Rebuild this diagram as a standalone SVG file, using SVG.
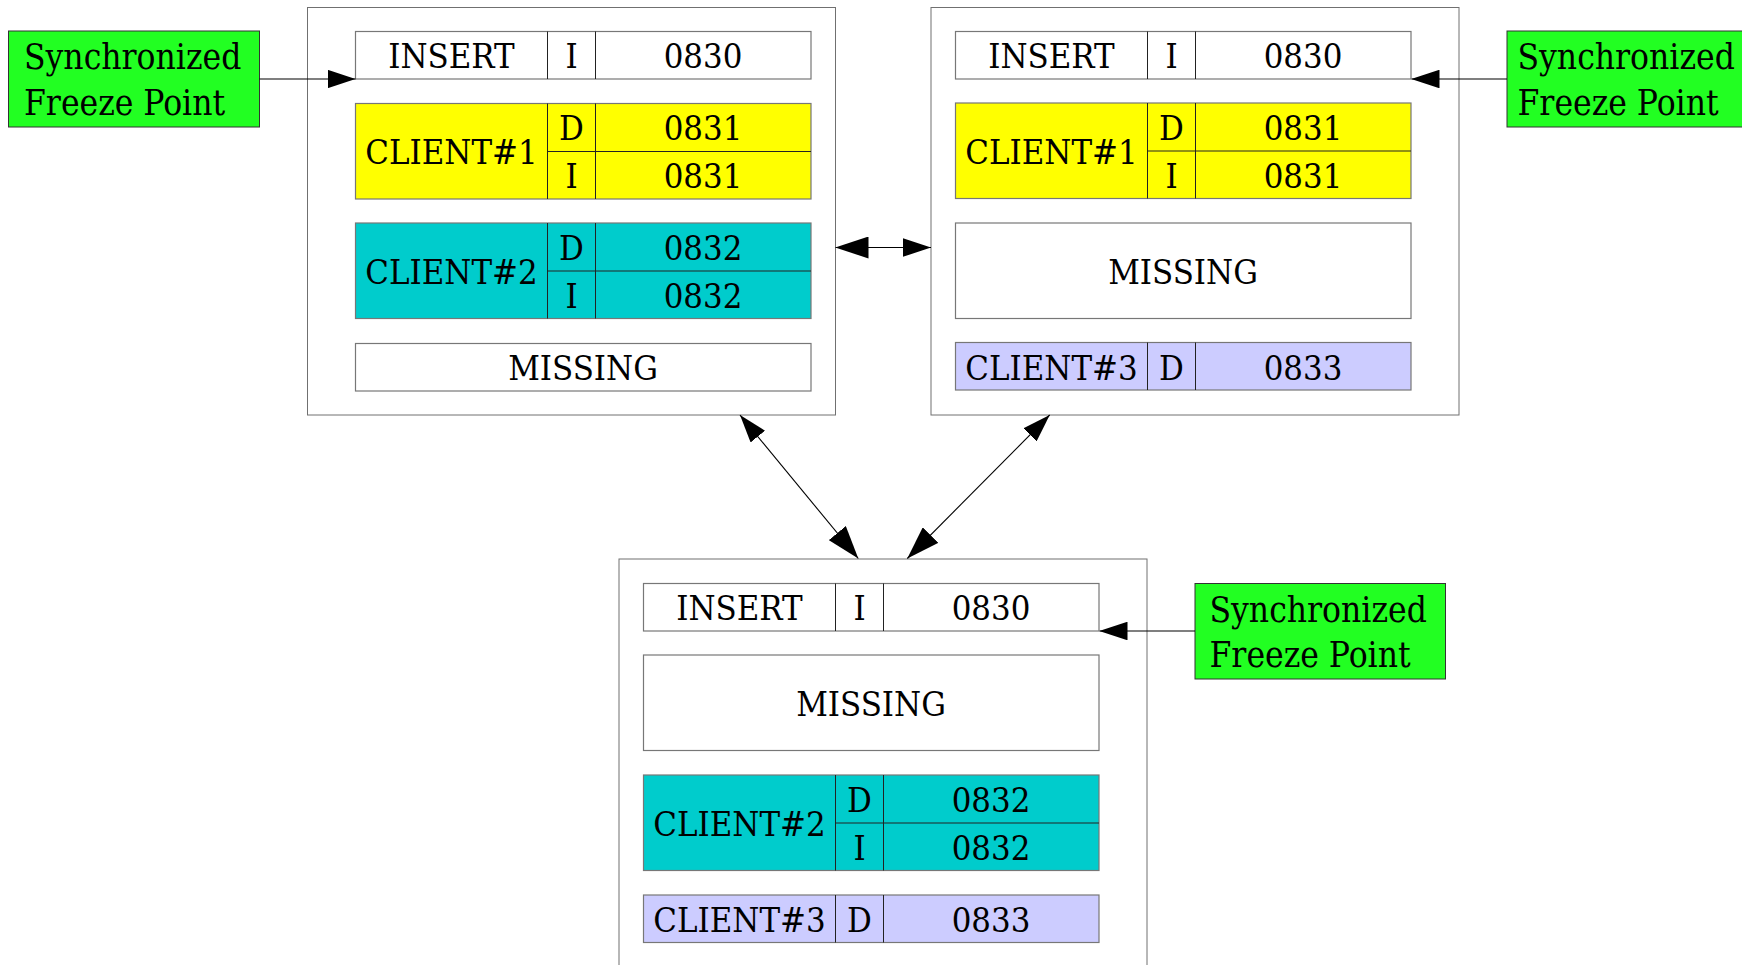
<svg xmlns="http://www.w3.org/2000/svg" width="1742" height="965" viewBox="0 0 1742 965">
<style>
  .bg { fill: #ffffff; }
  .outer { fill: #ffffff; stroke: #707070; stroke-width: 1; }
  .tbl { stroke: #777777; stroke-width: 1.2; }
  .div { stroke: #222222; stroke-width: 1; fill: none; }
  .white { fill: #ffffff; }
  .yellow { fill: #ffff00; }
  .cyan { fill: #00cccc; }
  .lav { fill: #ccccff; }
  .green { fill: #22ff22; stroke: #333333; stroke-width: 1; }
  text { font-family: "DejaVu Serif Condensed", "DejaVu Serif", serif; font-stretch: condensed; fill: #000000; }
  .t { font-size: 34.4px; text-anchor: middle; }
  .g { font-size: 35px; text-anchor: start; }
  .edge { stroke: #000000; stroke-width: 1.1; fill: none; }
</style>
<defs>
  <marker id="big" markerUnits="userSpaceOnUse" markerWidth="33" markerHeight="22" viewBox="0 0 33 22" refX="33" refY="11" orient="auto-start-reverse">
    <path d="M0,0 L33,11 L0,22 Z" fill="#000000"/>
  </marker>
  <marker id="small" markerUnits="userSpaceOnUse" markerWidth="28" markerHeight="18.6" viewBox="0 0 28 18.6" refX="28" refY="9.3" orient="auto-start-reverse">
    <path d="M0,0 L28,9.3 L0,18.6 Z" fill="#000000"/>
  </marker>
</defs>
<rect class="bg" x="0" y="0" width="1742" height="965"/>

<!-- Node A: left snapshot -->
<g id="nodeA">
  <rect class="outer" x="307.5" y="7.5" width="528" height="407.5"/>
  <rect class="white tbl" x="355.5" y="31.5" width="455.5" height="47.5"/>
  <line class="div" x1="547.5" y1="31.5" x2="547.5" y2="79"/>
  <line class="div" x1="595.5" y1="31.5" x2="595.5" y2="79"/>
  <text class="t" x="451.5" y="68">INSERT</text>
  <text class="t" x="571.5" y="68">I</text>
  <text class="t" x="703" y="68">0830</text>
  <rect class="yellow tbl" x="355.5" y="103.5" width="455.5" height="95.5"/>
  <line class="div" x1="547.5" y1="103.5" x2="547.5" y2="199"/>
  <line class="div" x1="595.5" y1="103.5" x2="595.5" y2="199"/>
  <line class="div" x1="547.5" y1="151.5" x2="811" y2="151.5"/>
  <text class="t" x="451.5" y="164">CLIENT#1</text>
  <text class="t" x="571.5" y="140">D</text>
  <text class="t" x="571.5" y="188">I</text>
  <text class="t" x="703" y="140">0831</text>
  <text class="t" x="703" y="188">0831</text>
  <rect class="cyan tbl" x="355.5" y="223" width="455.5" height="95.5"/>
  <line class="div" x1="547.5" y1="223" x2="547.5" y2="318.5"/>
  <line class="div" x1="595.5" y1="223" x2="595.5" y2="318.5"/>
  <line class="div" x1="547.5" y1="271" x2="811" y2="271"/>
  <text class="t" x="451.5" y="284">CLIENT#2</text>
  <text class="t" x="571.5" y="260">D</text>
  <text class="t" x="571.5" y="308">I</text>
  <text class="t" x="703" y="260">0832</text>
  <text class="t" x="703" y="308">0832</text>
  <rect class="white tbl" x="355.5" y="343.5" width="455.5" height="47.5"/>
  <text class="t" x="583" y="380">MISSING</text>
</g>

<!-- Node B: right snapshot -->
<g id="nodeB">
  <rect class="outer" x="931" y="7.5" width="528" height="407.5"/>
  <rect class="white tbl" x="955.5" y="31.5" width="455.5" height="47.5"/>
  <line class="div" x1="1147.5" y1="31.5" x2="1147.5" y2="79"/>
  <line class="div" x1="1195.5" y1="31.5" x2="1195.5" y2="79"/>
  <text class="t" x="1051.5" y="68">INSERT</text>
  <text class="t" x="1171.5" y="68">I</text>
  <text class="t" x="1303" y="68">0830</text>
  <rect class="yellow tbl" x="955.5" y="103" width="455.5" height="95.5"/>
  <line class="div" x1="1147.5" y1="103" x2="1147.5" y2="198.5"/>
  <line class="div" x1="1195.5" y1="103" x2="1195.5" y2="198.5"/>
  <line class="div" x1="1147.5" y1="151" x2="1411" y2="151"/>
  <text class="t" x="1051.5" y="164">CLIENT#1</text>
  <text class="t" x="1171.5" y="140">D</text>
  <text class="t" x="1171.5" y="188">I</text>
  <text class="t" x="1303" y="140">0831</text>
  <text class="t" x="1303" y="188">0831</text>
  <rect class="white tbl" x="955.5" y="223" width="455.5" height="95.5"/>
  <text class="t" x="1183" y="284">MISSING</text>
  <rect class="lav tbl" x="955.5" y="342.5" width="455.5" height="47.5"/>
  <line class="div" x1="1147.5" y1="342.5" x2="1147.5" y2="390"/>
  <line class="div" x1="1195.5" y1="342.5" x2="1195.5" y2="390"/>
  <text class="t" x="1051.5" y="379.5">CLIENT#3</text>
  <text class="t" x="1171.5" y="379.5">D</text>
  <text class="t" x="1303" y="379.5">0833</text>
</g>

<!-- Node C: bottom snapshot -->
<g id="nodeC">
  <rect class="outer" x="619" y="559" width="528" height="408"/>
  <rect class="white tbl" x="643.5" y="583.5" width="455.5" height="47.5"/>
  <line class="div" x1="835.5" y1="583.5" x2="835.5" y2="631"/>
  <line class="div" x1="883.5" y1="583.5" x2="883.5" y2="631"/>
  <text class="t" x="739.5" y="620">INSERT</text>
  <text class="t" x="859.5" y="620">I</text>
  <text class="t" x="991" y="620">0830</text>
  <rect class="white tbl" x="643.5" y="655" width="455.5" height="95.5"/>
  <text class="t" x="871" y="716">MISSING</text>
  <rect class="cyan tbl" x="643.5" y="775" width="455.5" height="95.5"/>
  <line class="div" x1="835.5" y1="775" x2="835.5" y2="870.5"/>
  <line class="div" x1="883.5" y1="775" x2="883.5" y2="870.5"/>
  <line class="div" x1="835.5" y1="823" x2="1099" y2="823"/>
  <text class="t" x="739.5" y="836">CLIENT#2</text>
  <text class="t" x="859.5" y="812">D</text>
  <text class="t" x="859.5" y="860">I</text>
  <text class="t" x="991" y="812">0832</text>
  <text class="t" x="991" y="860">0832</text>
  <rect class="lav tbl" x="643.5" y="895" width="455.5" height="47.5"/>
  <line class="div" x1="835.5" y1="895" x2="835.5" y2="942.5"/>
  <line class="div" x1="883.5" y1="895" x2="883.5" y2="942.5"/>
  <text class="t" x="739.5" y="932">CLIENT#3</text>
  <text class="t" x="859.5" y="932">D</text>
  <text class="t" x="991" y="932">0833</text>
</g>

<!-- Freeze point nodes -->
<g id="freezeLeft">
  <rect class="green" x="8.5" y="31" width="251" height="96"/>
  <text class="g" x="24" y="68.5">Synchronized</text>
  <text class="g" x="24" y="114.5">Freeze Point</text>
</g>
<g id="freezeRight">
  <rect class="green" x="1507" y="31" width="251" height="96"/>
  <text class="g" x="1517.5" y="68.5">Synchronized</text>
  <text class="g" x="1517.5" y="114.5">Freeze Point</text>
</g>
<g id="freezeBottom">
  <rect class="green" x="1195" y="583.5" width="250.5" height="95.5"/>
  <text class="g" x="1209.5" y="621.5">Synchronized</text>
  <text class="g" x="1209.5" y="667">Freeze Point</text>
</g>

<!-- Connectors -->
<g id="connectors">
  <line class="edge" x1="259.5" y1="79" x2="355.5" y2="79" marker-end="url(#small)"/>
  <line class="edge" x1="1507" y1="79" x2="1411.5" y2="79" marker-end="url(#small)"/>
  <line class="edge" x1="1195" y1="631" x2="1099.5" y2="631" marker-end="url(#small)"/>
  <line class="edge" x1="835.5" y1="247.5" x2="931" y2="247.5" marker-start="url(#big)" marker-end="url(#small)"/>
  <line class="edge" x1="740" y1="415" x2="858.3" y2="558.5" marker-start="url(#small)" marker-end="url(#big)"/>
  <line class="edge" x1="1049.7" y1="415" x2="907.3" y2="558.5" marker-start="url(#small)" marker-end="url(#big)"/>
</g>
</svg>
